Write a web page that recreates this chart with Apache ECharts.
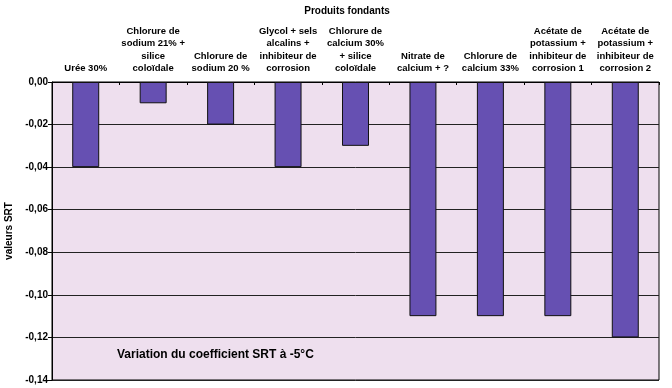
<!DOCTYPE html>
<html><head><meta charset="utf-8">
<script src="https://cdn.jsdelivr.net/npm/echarts@6/dist/echarts.min.js"></script>
<style>html,body{margin:0;padding:0;background:#fff}#c{width:672px;height:388px}</style>
</head><body><div id="c"></div>
<script>
const categories = [
  "Urée 30%",
  "Chlorure de\nsodium 21% +\nsilice\ncoloïdale",
  "Chlorure de\nsodium 20 %",
  "Glycol + sels\nalcalins +\ninhibiteur de\ncorrosion",
  "Chlorure de\ncalcium 30%\n+ silice\ncoloïdale",
  "Nitrate de\ncalcium + ?",
  "Chlorure de\ncalcium 33%",
  "Acétate de\npotassium +\ninhibiteur de\ncorrosion 1",
  "Acétate de\npotassium +\ninhibiteur de\ncorrosion 2"
];
const values = [-0.04, -0.01, -0.02, -0.04, -0.03, -0.11, -0.11, -0.11, -0.12];
const yTicks = { min: -0.14, max: 0, interval: 0.02 };
const titleText = "Produits fondants";
const yName = "valeurs SRT";
const note = "Variation du coefficient SRT à -5°C";

const font = "Arial, 'Liberation Sans', sans-serif";
const chart = echarts.init(document.getElementById('c'));
chart.setOption({
  animation: false,
  backgroundColor: '#ffffff',
  title: { text: titleText, left: 342, top: 1, textAlign: 'center',
    textStyle: { fontFamily: font, fontSize: 10, fontWeight: 'bold', color: '#000' } },
  graphic: [{ type: 'text', left: 117, top: 349,
    style: { text: note, fontFamily: font, fontSize: 12, fontWeight: 'bold', fill: '#000' } }],
  grid: { left: 52, right: 13, top: 82, bottom: 8, show: true, outerBoundsMode: 'none', containLabel: false,
    backgroundColor: '#eedfee', borderColor: '#000', borderWidth: 1 },
  xAxis: {
    type: 'category', position: 'top', data: categories,
    axisLine: { show: true, lineStyle: { color: '#000' } },
    axisTick: { show: true, inside: true, length: 3, lineStyle: { color: '#000' } },
    axisLabel: { interval: 0, margin: 7, fontFamily: font, fontSize: 9.5, fontWeight: 'bold',
      color: '#000', lineHeight: 12.5, align: 'center' }
  },
  yAxis: {
    type: 'value', min: yTicks.min, max: yTicks.max, interval: yTicks.interval,
    name: yName, nameLocation: 'middle', nameGap: 37, nameRotate: 90,
    nameTextStyle: { fontFamily: font, fontSize: 10, fontWeight: 'bold', color: '#000' },
    axisLine: { show: true, lineStyle: { color: '#000' } },
    axisTick: { show: true, length: 4, lineStyle: { color: '#000' } },
    splitLine: { show: true, lineStyle: { color: '#222', width: 1 } },
    axisLabel: { fontFamily: font, fontSize: 10, fontWeight: 'bold', color: '#000', margin: 4,
      formatter: v => v.toFixed(2).replace('.', ',') }
  },
  series: [{
    type: 'bar', data: values, barWidth: '40%',
    itemStyle: { color: '#6650b2', borderColor: '#111', borderWidth: 1 }
  }]
});
</script></body></html>
